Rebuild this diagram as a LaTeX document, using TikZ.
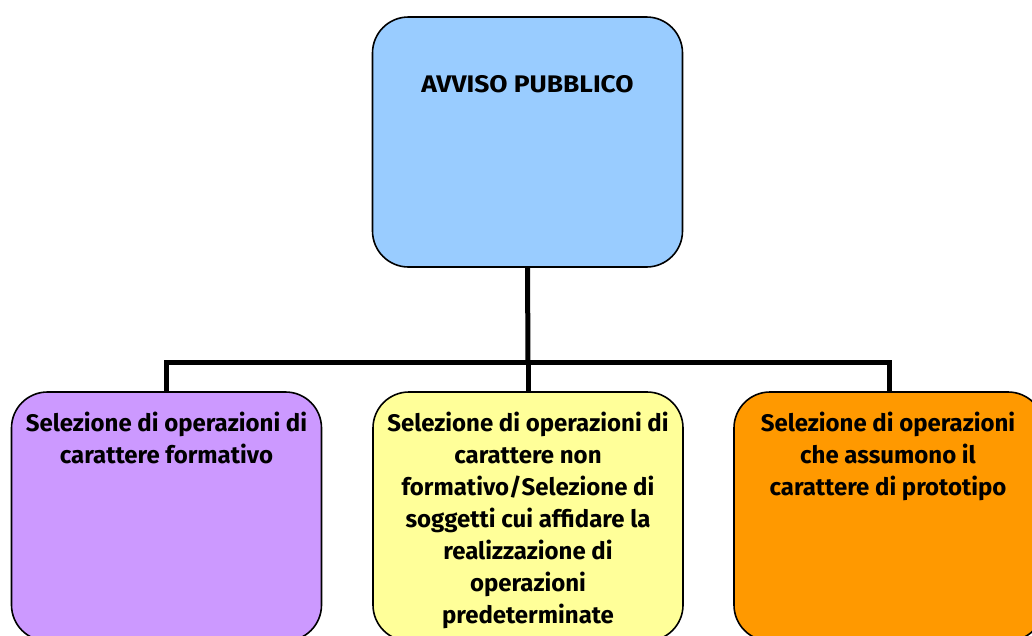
\documentclass[tikz,border=0pt]{standalone}
\usepackage{fontspec}
\newfontfamily\lblfont{Fira Sans}
\newfontfamily\toplblfont{Fira Sans}[FakeStretch=1.1]
\definecolor{topblue}{HTML}{99CCFF}
\definecolor{boxpurple}{HTML}{CC99FF}
\definecolor{boxyellow}{HTML}{FFFF99}
\definecolor{boxorange}{HTML}{FF9900}
\tikzset{
  box/.style={draw=black, line width=1.6pt, rounded corners=36pt, minimum width=310pt, inner sep=0pt},
  topbox/.style={box, minimum height=250pt, fill=topblue},
  lowbox/.style={box, minimum height=249pt},
  lbl/.style={inner sep=0pt, align=center, anchor=north, font=\lblfont\bfseries\fontsize{24}{32}\selectfont},
  toplbl/.style={lbl, font=\toplblfont\bfseries\fontsize{24}{32}\selectfont},
  conn/.style={draw=black, line width=5pt}
}
\begin{document}
\begin{tikzpicture}[x=1pt,y=-1pt]
\useasboundingbox (0,0) rectangle (1032,635);
\clip (0,0) rectangle (1032,635);
\node[topbox] (top) at (527.5,142) {};
\node[lowbox, fill=boxpurple] (left) at (166.5,516.5) {};
\node[lowbox, fill=boxyellow] (mid) at (528,516.5) {};
\node[lowbox, fill=boxorange] (right) at (889,516.5) {};
\coordinate (hub) at (528,362);
\draw[conn] (top.south) -- (hub);
\draw[conn] (hub) -| (left.north);
\draw[conn] (hub) -| (right.north);
\draw[conn] (hub) -- (mid.north);
\node[toplbl] (toptext) at (527.5,75) {AVVISO PUBBLICO};
\node[lbl] (lefttext) at (166.5,412) {Selezione di operazioni di\\carattere formativo};
\node[lbl] (midtext) at (528,412) {Selezione di operazioni di\\carattere non\\formativo/Selezione di\\soggetti cui affidare la\\realizzazione di\\operazioni\\predeterminate};
\node[lbl] (righttext) at (888,412) {Selezione di operazioni\\che assumono il\\carattere di prototipo};
\end{tikzpicture}
\end{document}
